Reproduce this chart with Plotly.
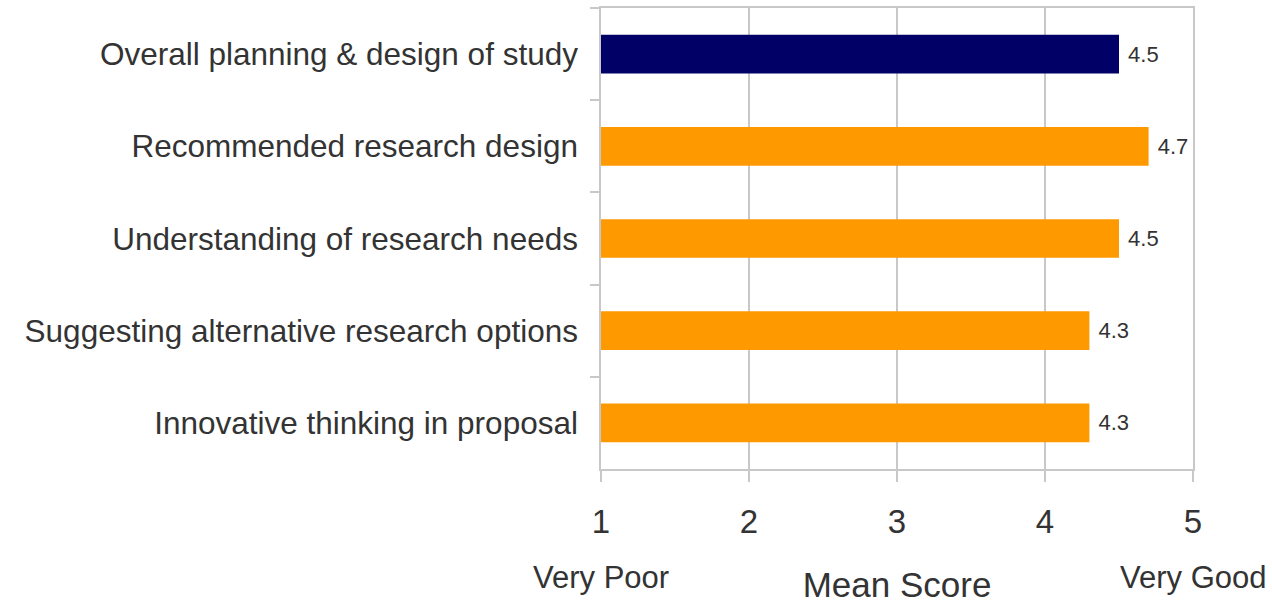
import plotly.graph_objects as go

categories = [
    "Overall planning & design of study",
    "Recommended research design",
    "Understanding of research needs",
    "Suggesting alternative research options",
    "Innovative thinking in proposal",
]
mean_scores = [4.5, 4.7, 4.5, 4.3, 4.3]
score_labels = ["4.5", "4.7", "4.5", "4.3", "4.3"]
bar_colors = ["#000066", "#FF9900", "#FF9900", "#FF9900", "#FF9900"]
x_ticks = [1, 2, 3, 4, 5]
scale_low = "Very Poor"
scale_high = "Very Good"
axis_title = "Mean Score"

FONT = "Liberation Sans, Arial, sans-serif"
TXT = "#333333"
GRID = "#c8c8c8"

fig = go.Figure(go.Bar(
    y=categories,
    x=mean_scores,
    base=0,
    orientation="h",
    marker=dict(color=bar_colors, line=dict(width=0)),
    width=0.42,
    text=score_labels,
    texttemplate="\u00a0%{text}",
    textposition="outside",
    constraintext="none",
    textfont=dict(size=22, color=TXT, family=FONT),
    cliponaxis=False,
    hoverinfo="skip",
))

fig.update_layout(
    width=1272,
    height=605,
    margin=dict(l=601, r=79, t=6, b=136),
    paper_bgcolor="white",
    plot_bgcolor="white",
    showlegend=False,
    font=dict(family=FONT, color=TXT),
    xaxis=dict(
        range=[1, 5],
        tickvals=x_ticks,
        ticktext=[str(t) for t in x_ticks],
        tickfont=dict(size=33, color=TXT),
        showgrid=True,
        gridcolor=GRID,
        gridwidth=1.5,
        showline=True,
        linecolor=GRID,
        linewidth=1.5,
        mirror=True,
        ticks="outside",
        ticklen=11,
        tickcolor=GRID,
        tickwidth=1.5,
        ticklabelstandoff=12,
        zeroline=False,
        title=dict(text=axis_title, font=dict(size=35, color=TXT), standoff=33),
    ),
    yaxis=dict(
        categoryorder="array",
        categoryarray=categories,
        autorange="reversed",
        tickfont=dict(size=31.5, color=TXT),
        showgrid=False,
        showline=True,
        linecolor=GRID,
        linewidth=1.5,
        mirror=True,
        ticks="outside",
        tickson="boundaries",
        ticklen=9,
        tickcolor=GRID,
        tickwidth=1.5,
        ticklabelstandoff=15,
    ),
    annotations=[
        dict(text=scale_low, x=1, xref="x", y=-0.236, yref="paper",
             xanchor="center", yanchor="middle", showarrow=False,
             font=dict(size=31, color=TXT, family=FONT)),
        dict(text=scale_high, x=5, xref="x", y=-0.236, yref="paper",
             xanchor="center", yanchor="middle", showarrow=False,
             font=dict(size=31, color=TXT, family=FONT)),
    ],
)

fig.write_html(
    "out.html",
    config={"displayModeBar": False},
    post_script="document.body.style.margin='0';document.body.style.overflow='hidden';",
)
